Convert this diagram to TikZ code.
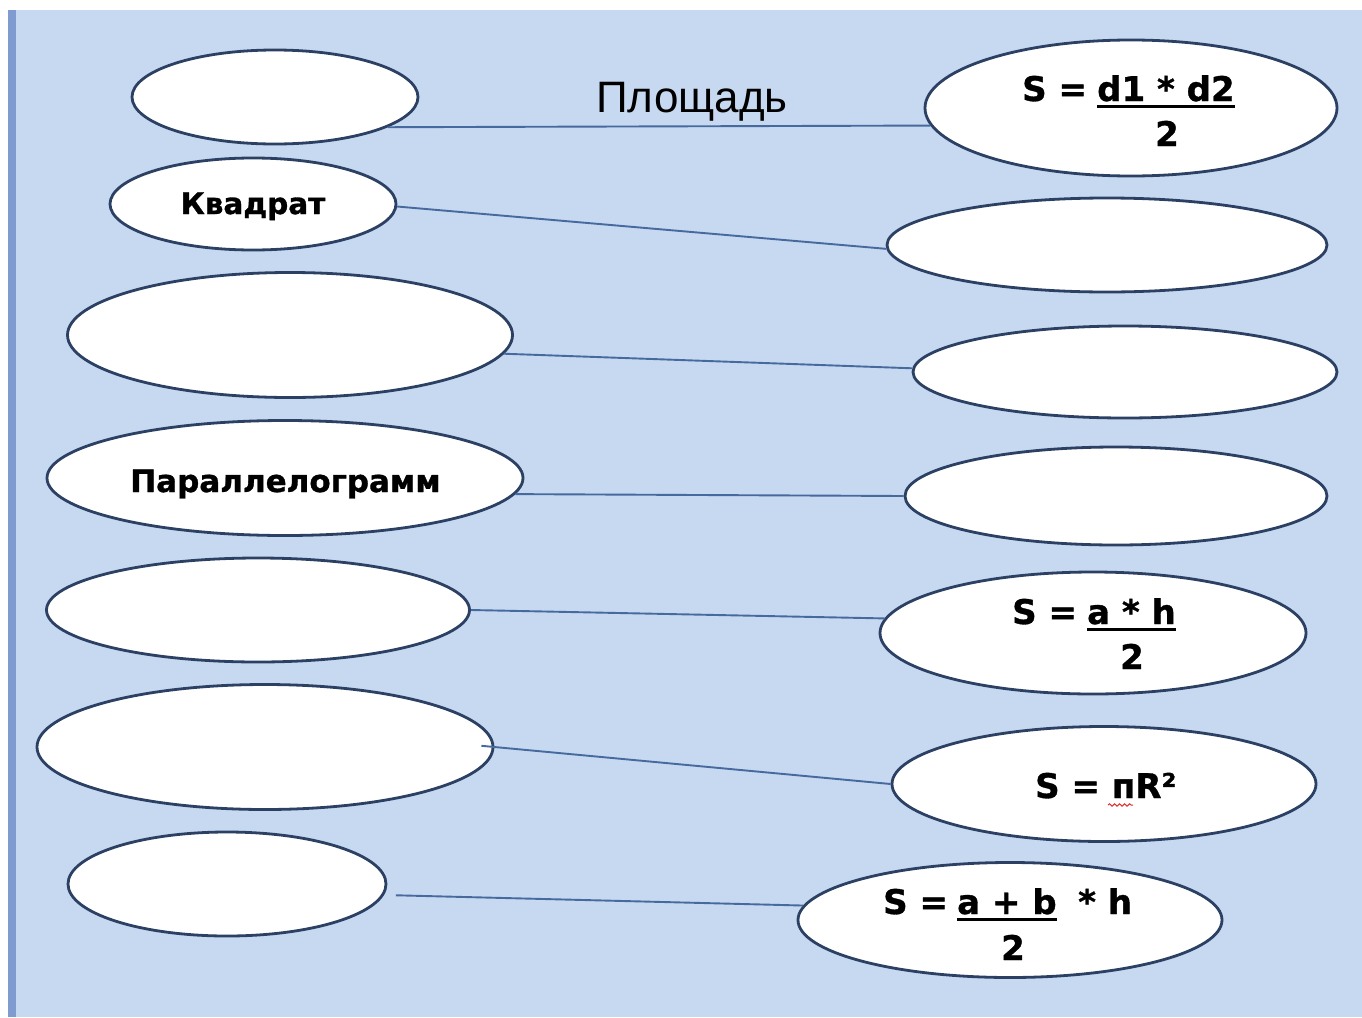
\documentclass[tikz,border=0pt]{standalone}
\usepackage{fontspec}
\setmainfont{Liberation Sans}
\newfontfamily\lblfont[BoldFeatures={FakeBold=1}]{DejaVu Sans}
\usetikzlibrary{shapes.geometric,decorations.pathmorphing}
\definecolor{bg}{HTML}{C6D9F1}
\definecolor{stripe}{HTML}{7F9BD0}
\definecolor{outl}{HTML}{2B4063}
\definecolor{conn}{HTML}{46699E}
\definecolor{spell}{HTML}{E03030}
\begin{document}
\begin{tikzpicture}[x=1pt,y=-1pt,
  ell/.style={ellipse, draw=outl, line width=2.8pt, fill=white, inner sep=0pt},
  link/.style={draw=conn, line width=1.9pt},
  lbl/.style={font=\lblfont\bfseries\fontsize{29.5}{36}\selectfont, inner sep=0pt, text=black},
  fml/.style={font=\lblfont\bfseries\fontsize{34}{40}\selectfont, inner sep=0pt, text=black},
  ul/.style={draw=black, line width=3pt}]
\useasboundingbox (0,0) rectangle (1362,1017);
\fill[white] (0,0) rectangle (1362,1017);
\fill[bg] (8,10) rectangle (1362,1017);
\fill[stripe] (8,10) rectangle (16,1017);

% left ellipses
\node[ell, minimum width=286pt, minimum height=94pt] (L1) at (275,97) {};
\node[ell, minimum width=286pt, minimum height=92pt] (L2) at (253,204) {};
\node[ell, minimum width=445pt, minimum height=125pt] (L3) at (290,335) {};
\node[ell, minimum width=476pt, minimum height=115pt] (L4) at (285,478) {};
\node[ell, minimum width=423pt, minimum height=104pt] (L5) at (258,610) {};
\node[ell, minimum width=456pt, minimum height=125pt] (L6) at (265,747) {};
\node[ell, minimum width=318pt, minimum height=104pt] (L7) at (227,884) {};
% right ellipses
\node[ell, minimum width=412pt, minimum height=136pt] (R1) at (1131,108) {};
\node[ell, minimum width=440pt, minimum height=94pt] (R2) at (1107,245) {};
\node[ell, minimum width=424pt, minimum height=92pt] (R3) at (1125,372) {};
\node[ell, minimum width=422pt, minimum height=98pt] (R4) at (1116,496) {};
\node[ell, minimum width=426pt, minimum height=122pt] (R5) at (1093,633) {};
\node[ell, minimum width=424pt, minimum height=115pt] (R6) at (1104,784) {};
\node[ell, minimum width=424pt, minimum height=115pt] (R7) at (1010,920) {};

% connectors
\draw[link] (L1.-15) -- (R1.185);
\draw[link] (L2.-1) -- (R2.181);
\draw[link] (L3.-5.6) -- (R3.179.5);
\draw[link] (L4.-4.1) -- (R4.180);
\draw[link] (L5.0) -- (R5.176.7);
\draw[link, shorten <=-13pt] (L6.-0.5) -- (R6.180);
\draw[link, shorten <=12pt] (L7.-4.7) -- (R7.176.8);

% title
\node[font=\fontsize{44}{50}\selectfont, inner sep=0pt, anchor=base] (title) at (692,112) {Площадь};

% labels
\node[lbl, anchor=base] (kv) at (253,214) {Квадрат};
\node[lbl, font=\lblfont\bfseries\fontsize{31}{38}\selectfont, anchor=base] (par) at (285.5,492) {Параллелограмм};

% formula 1
\node[fml, anchor=base west] (f1s) at (1022,101) {S =};
\node[fml, anchor=base west] (f1n) at (1097,101) {d1 * d2};
\draw[ul] ([yshift=-5pt]f1n.base west) -- ([yshift=-5pt]f1n.base east);
\node[fml, anchor=base] (f1d) at (1167,146) {2};

% formula 2
\node[fml, anchor=base west] (f2s) at (1012,624) {S =};
\node[fml, anchor=base west] (f2n) at (1087,624) {a * h};
\draw[ul] ([yshift=-5pt]f2n.base west) -- ([yshift=-5pt]f2n.base east);
\node[fml, anchor=base] (f2d) at (1132,669) {2};

% formula 3
\node[fml, anchor=base west] (f3) at (1035,798) {S = пR²};
\draw[spell, line width=1pt, decorate, decoration={snake, amplitude=1.2pt, segment length=5pt}] (1108,805) -- (1133,805);

% formula 4
\node[fml, anchor=base west] (f4s) at (883,914) {S =};
\node[fml, anchor=base west] (f4n) at (957,914) {a + b};
\draw[ul] ([yshift=-5pt]f4n.base west) -- ([yshift=-5pt]f4n.base east);
\node[fml, anchor=base west] (f4h) at (1078,914) {* h};
\node[fml, anchor=base] (f4d) at (1013,960) {2};
\end{tikzpicture}
\end{document}
